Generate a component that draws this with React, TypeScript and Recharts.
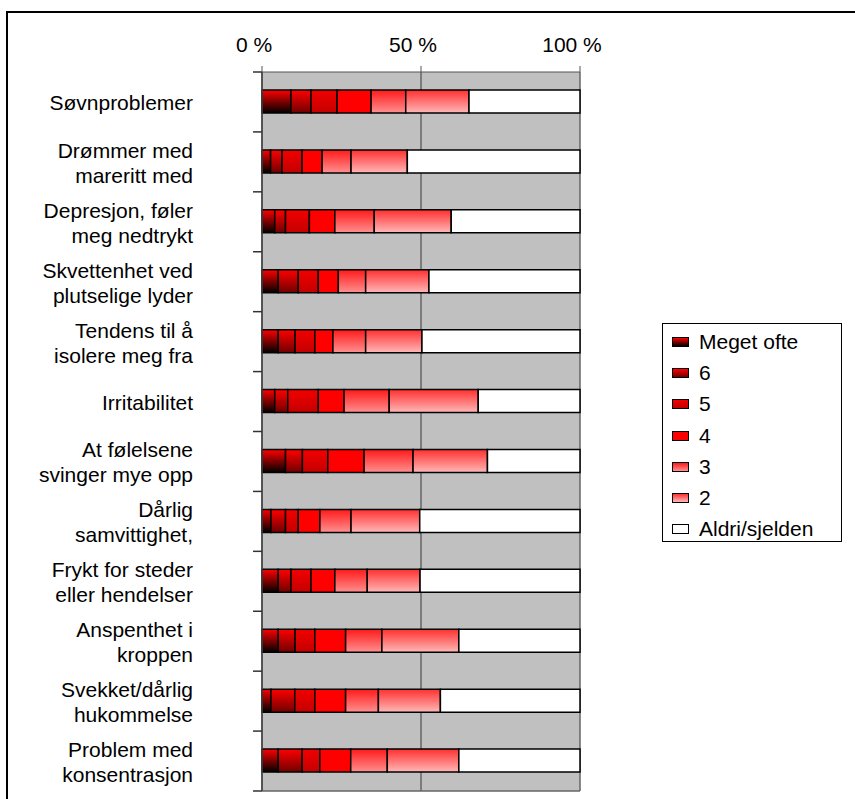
import { BarChart, Bar, XAxis, YAxis, CartesianGrid } from "recharts";

const categories = [
  "Søvnproblemer",
  "Drømmer med\nmareritt med",
  "Depresjon, føler\nmeg nedtrykt",
  "Skvettenhet ved\nplutselige lyder",
  "Tendens til å\nisolere meg fra",
  "Irritabilitet",
  "At følelsene\nsvinger mye opp",
  "Dårlig\nsamvittighet,",
  "Frykt for steder\neller hendelser",
  "Anspenthet i\nkroppen",
  "Svekket/dårlig\nhukommelse",
  "Problem med\nkonsentrasjon",
];

const veryOften = [9.1, 2.7, 4.0, 5.1, 5.1, 4.0, 7.4, 2.8, 5.1, 5.1, 2.8, 5.1];
const level6 = [6.3, 3.6, 3.4, 6.3, 5.3, 4.1, 5.3, 4.6, 4.0, 5.3, 7.5, 7.5];
const level5 = [8.2, 6.3, 7.5, 6.3, 6.2, 9.6, 8.0, 4.0, 6.3, 6.2, 6.3, 5.6];
const level4 = [10.7, 6.3, 8.0, 6.3, 5.7, 8.1, 11.4, 6.8, 7.5, 9.7, 9.7, 9.7];
const level3 = [10.9, 9.1, 12.4, 8.6, 10.3, 14.2, 15.4, 9.8, 10.2, 11.4, 10.3, 11.5];
const level2 = [19.9, 17.7, 24.2, 19.9, 17.7, 28.0, 23.4, 21.6, 16.6, 24.2, 19.5, 22.5];
const rarely = [34.9, 54.3, 40.5, 47.5, 49.7, 32.0, 29.1, 50.4, 50.3, 38.1, 43.9, 38.1];

const xTicks = [0, 0.5, 1];

const series = [
  { key: "meget", name: "Meget ofte", values: veryOften, stops: ["#ff0000", "#000000"] },
  { key: "s6", name: "6", values: level6, stops: ["#ff0000", "#700000"] },
  { key: "s5", name: "5", values: level5, stops: ["#f20000", "#c40000"] },
  { key: "s4", name: "4", values: level4, stops: ["#ff0000", "#ff0000"] },
  { key: "s3", name: "3", values: level3, stops: ["#ff1a1a", "#ff9090"] },
  { key: "s2", name: "2", values: level2, stops: ["#ff3030", "#ffb8b8"] },
  { key: "aldri", name: "Aldri/sjelden", values: rarely, stops: ["#ffffff", "#ffffff"] },
];

const data = categories.map((name, i) => {
  const row: Record<string, string | number> = { name };
  series.forEach((s) => (row[s.key] = s.values[i]));
  return row;
});

const FONT = "'Liberation Sans', Arial, sans-serif";
const PLOT_TOP = 72;
const PLOT_BOTTOM = 791;
const HALF_BAND = (PLOT_BOTTOM - PLOT_TOP) / categories.length / 2;

const PctTick = ({ x, payload }: any) => (
  <text x={x - 8} y={52} textAnchor="middle" fontSize={21} fontFamily={FONT} fill="#000">
    {`${Math.round(payload.value * 100)} %`}
  </text>
);

const CategoryTick = ({ x, y, payload, index }: any) => {
  const lines = String(payload.value).split("\n");
  const first = lines.length === 1 ? y + 8 : y - 4;
  return (
    <g>
      <line x1={x - 9} x2={x} y1={y - HALF_BAND} y2={y - HALF_BAND} stroke="#333" strokeWidth={1.5} />
      {index === categories.length - 1 && (
        <line x1={x - 9} x2={x} y1={y + HALF_BAND} y2={y + HALF_BAND} stroke="#333" strokeWidth={1.5} />
      )}
      <text textAnchor="end" fontSize={21} fontFamily={FONT} fill="#000">
        {lines.map((l, j) => (
          <tspan key={j} x={x - 69} y={first + j * 25}>
            {l}
          </tspan>
        ))}
      </text>
    </g>
  );
};

function LegendBox() {
  return (
    <div
      style={{
        position: "absolute",
        left: 662,
        top: 323,
        width: 178,
        height: 217,
        border: "1px solid #000",
        background: "#fff",
        fontFamily: FONT,
        fontSize: 21,
      }}
    >
      {series.map((s, i) => (
        <div
          key={s.key}
          style={{
            position: "absolute",
            left: 9,
            top: 18 + i * 31.2 - 12,
            height: 24,
            display: "flex",
            alignItems: "center",
            whiteSpace: "nowrap",
          }}
        >
          <span
            style={{
              display: "inline-block",
              width: 15,
              height: 8,
              border: "1px solid #000",
              background: `linear-gradient(${s.stops[0]}, ${s.stops[1]})`,
              marginRight: 10,
            }}
          />
          <span>{s.name}</span>
        </div>
      ))}
    </div>
  );
}

export default function App() {
  return (
    <div style={{ position: "absolute", left: 0, top: 0, width: 855, height: 799, overflow: "hidden", background: "#fff" }}>
      <div
        style={{
          position: "absolute",
          left: 6,
          top: 11,
          width: 900,
          height: 900,
          border: "2px solid #000",
        }}
      />
      <div style={{ position: "absolute", left: 0, top: 0 }}>
        <BarChart
          width={855}
          height={820}
          data={data}
          layout="vertical"
          stackOffset="expand"
          margin={{ top: 0, right: 275, bottom: 29, left: 0 }}
        >
          <defs>
            {series.map((s) => (
              <linearGradient key={s.key} id={`g-${s.key}`} x1="0" y1="0" x2="0" y2="1">
                <stop offset="0%" stopColor={s.stops[0]} />
                <stop offset="100%" stopColor={s.stops[1]} />
              </linearGradient>
            ))}
          </defs>
          <CartesianGrid
            fill="#c0c0c0"
            stroke="#666"
            strokeWidth={1.5}
            horizontalPoints={[PLOT_BOTTOM]}
          />
          <XAxis
            type="number"
            orientation="top"
            domain={[0, 1]}
            ticks={xTicks}
            height={72}
            tickSize={6}
            stroke="#555"
            tick={<PctTick />}
          />
          <YAxis
            type="category"
            dataKey="name"
            width={262}
            tickLine={false}
            tickSize={0}
            tickMargin={0}
            stroke="#444"
            strokeWidth={1.5}
            interval={0}
            tick={<CategoryTick />}
          />
          {series.map((s) => (
            <Bar
              key={s.key}
              dataKey={s.key}
              name={s.name}
              stackId="a"
              barSize={23}
              fill={`url(#g-${s.key})`}
              stroke="#000"
              strokeWidth={1.5}
              isAnimationActive={false}
            />
          ))}
        </BarChart>
      </div>
      <LegendBox />
    </div>
  );
}
